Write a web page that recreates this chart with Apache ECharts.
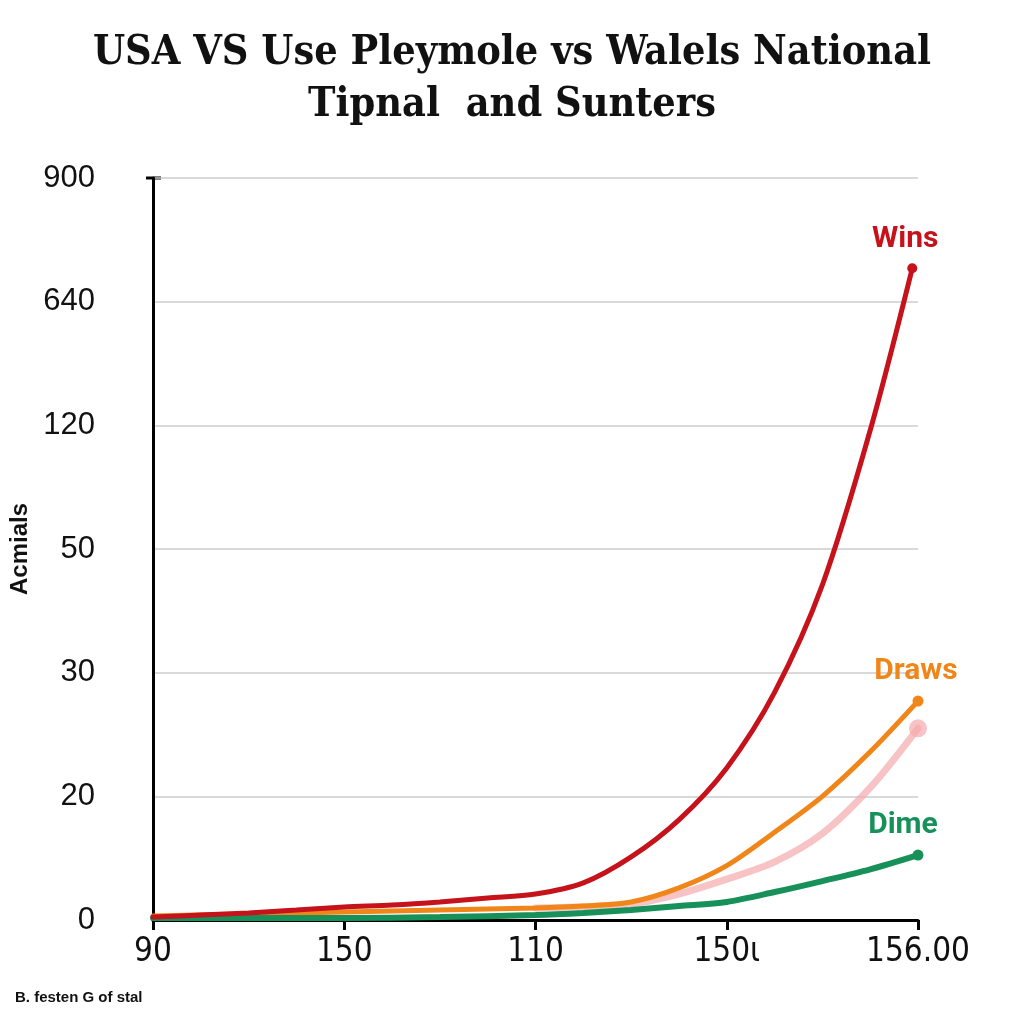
<!DOCTYPE html>
<html>
<head>
<meta charset="utf-8">
<script src="https://cdn.jsdelivr.net/npm/echarts@6/dist/echarts.min.js"></script>
<style>html,body{margin:0;padding:0;background:#fff;}#c{width:1024px;height:1024px;}</style>
</head>
<body>
<div id="c"></div>
<script>
const titleText = 'USA VS Use Pleymole vs Walels National\nTipnal  and Sunters';
const yAxisName = 'Acmials';
const footerText = 'B. festen G of stal';
const xTickLabels = ['90', '150', '110', '150\u0269', '156.00'];
const yTickLabels = ['0', '20', '30', '50', '120', '640', '900'];

const winsX  = [0, 0.25, 0.5, 0.75, 1, 1.25, 1.5, 1.75, 2, 2.25, 2.5, 2.75, 3, 3.25, 3.5, 3.75, 3.97];
const winsY  = [0.024, 0.04, 0.057, 0.081, 0.105, 0.121, 0.146, 0.178, 0.21, 0.30, 0.51, 0.81, 1.23, 1.84, 2.71, 3.96, 5.27];
const drawsX = [0, 0.5, 1, 1.5, 2, 2.25, 2.5, 2.75, 3, 3.25, 3.5, 3.75, 4];
const drawsY = [0.032, 0.049, 0.065, 0.081, 0.097, 0.113, 0.146, 0.26, 0.44, 0.71, 1.0, 1.36, 1.77];
const pinkX  = [2, 2.5, 2.75, 3, 3.25, 3.5, 3.75, 4];
const pinkY  = [0.097, 0.13, 0.21, 0.33, 0.47, 0.70, 1.07, 1.55];
const dimeX  = [0, 1, 1.5, 2, 2.25, 2.5, 2.75, 3, 3.25, 3.5, 3.75, 4];
const dimeY  = [0.016, 0.016, 0.024, 0.04, 0.057, 0.081, 0.113, 0.146, 0.226, 0.315, 0.41, 0.525];

function pairs(xs, ys) { return xs.map((x, i) => [x, ys[i]]); }

function lineSeries(name, xs, ys, color, width, opts) {
  const d = pairs(xs, ys).map((p, i, arr) => {
    if (i === arr.length - 1) {
      return {
        value: p,
        symbol: 'circle',
        symbolSize: opts.dot,
        itemStyle: { color: color, opacity: opts.opacity || 1 },
        label: opts.label ? {
          show: true, formatter: name, position: 'top',
          offset: opts.offset, color: color, fontSize: 30, fontWeight: 'bold',
          fontFamily: 'Roboto, sans-serif'
        } : { show: false }
      };
    }
    return { value: p, symbol: 'none' };
  });
  return {
    name: name, type: 'line', smooth: 0.3, data: d,
    showSymbol: true, z: opts.z || 2,
    lineStyle: { color: color, width: width, opacity: opts.opacity || 1, cap: 'round' },
    emphasis: { disabled: true }
  };
}

const chart = echarts.init(document.getElementById('c'), null, { renderer: 'canvas' });
chart.setOption({
  backgroundColor: '#ffffff',
  animation: false,
  title: {
    text: titleText, left: 'center', top: 22,
    textStyle: { fontFamily: 'DejaVu Serif Condensed, DejaVu Serif, serif', fontWeight: 'bold', fontSize: 41, lineHeight: 52, color: '#111' }
  },
  grid: { left: 153, right: 106, top: 178, bottom: 104, containLabel: false, outerBoundsMode: 'none' },
  xAxis: {
    type: 'value', min: 0, max: 4, interval: 1,
    axisLine: { show: true, lineStyle: { color: '#000', width: 3 } },
    axisTick: { show: true, length: 10, lineStyle: { color: '#000', width: 3 } },
    splitLine: { show: false },
    axisLabel: {
      formatter: v => xTickLabels[Math.round(v)], margin: 16,
      fontSize: 33, color: '#111', fontFamily: 'DejaVu Sans Condensed, Liberation Sans, sans-serif'
    }
  },
  yAxis: {
    type: 'value', min: 0, max: 6, interval: 1,
    name: yAxisName, nameLocation: 'middle', nameGap: 106, nameRotate: 90,
    nameTextStyle: { fontSize: 24, fontWeight: 'bold', color: '#111', fontFamily: 'Liberation Sans, sans-serif' },
    axisLine: { show: true, lineStyle: { color: '#000', width: 3 } },
    axisTick: { show: false },
    splitLine: { show: true, lineStyle: { color: '#cccccc', width: 1.5 } },
    axisLabel: {
      formatter: v => yTickLabels[Math.round(v)], margin: 58,
      fontSize: 31, color: '#111', fontFamily: 'Liberation Sans, sans-serif'
    }
  },
  series: [
    lineSeries('Draws', drawsX, drawsY, '#f0861a', 5, { dot: 11, label: true, offset: [-2, -4], z: 3 }),
    lineSeries('pink', pinkX, pinkY, '#f4a9ad', 7, { dot: 18, label: false, opacity: 0.7, z: 2 }),
    lineSeries('Dime', dimeX, dimeY, '#17905a', 6, { dot: 11, label: true, offset: [-15, -4], z: 4 }),
    lineSeries('Wins', winsX, winsY, '#c5121b', 5, { dot: 10, label: true, offset: [-7, -4], z: 5 })
  ],
  graphic: [
    { type: 'line', shape: { x1: 146, y1: 178, x2: 161, y2: 178 }, style: { stroke: '#000', lineWidth: 3 } },
    { type: 'text', left: 15, top: 990, style: { text: footerText, fontSize: 15, fontWeight: 'bold', fill: '#111', fontFamily: 'Liberation Sans, sans-serif' } }
  ]
});
</script>
</body>
</html>
